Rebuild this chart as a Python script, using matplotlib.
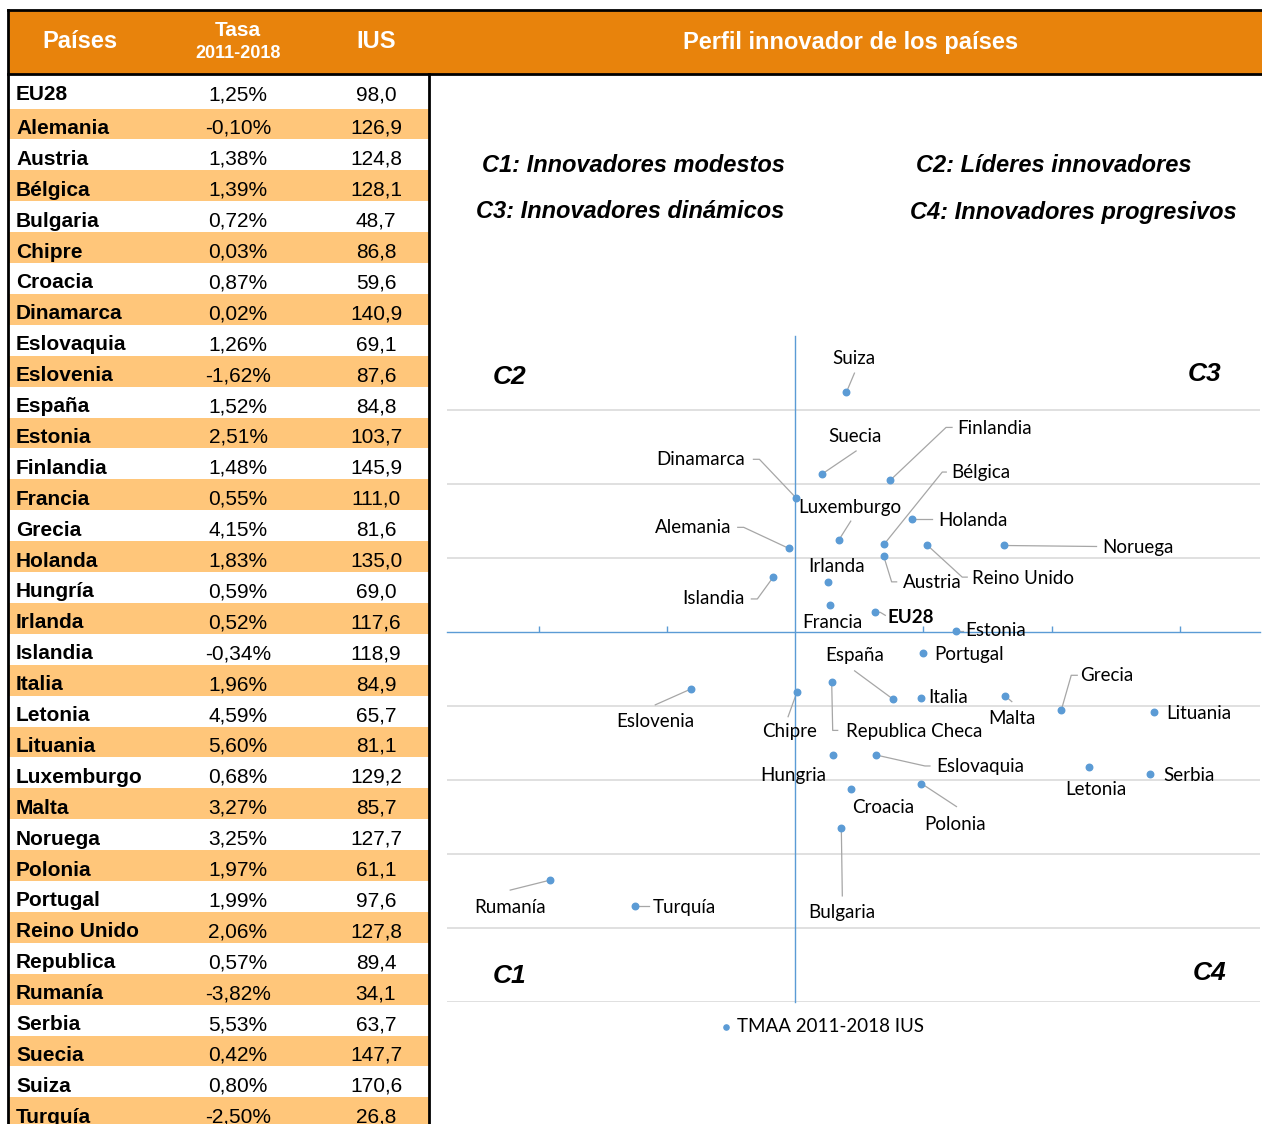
import matplotlib
matplotlib.use('Agg')
import matplotlib.pyplot as plt
from matplotlib.patches import Rectangle
from matplotlib.lines import Line2D

# --- data -------------------------------------------------------------
paises = ["EU28", "Alemania", "Austria", "Bélgica", "Bulgaria", "Chipre", "Croacia",
          "Dinamarca", "Eslovaquia", "Eslovenia", "España", "Estonia", "Finlandia",
          "Francia", "Grecia", "Holanda", "Hungría", "Irlanda", "Islandia", "Italia",
          "Letonia", "Lituania", "Luxemburgo", "Malta", "Noruega", "Polonia", "Portugal",
          "Reino Unido", "Republica", "Rumanía", "Serbia", "Suecia", "Suiza", "Turquía"]
tasa = [1.25, -0.10, 1.38, 1.39, 0.72, 0.03, 0.87, 0.02, 1.26, -1.62, 1.52, 2.51, 1.48,
        0.55, 4.15, 1.83, 0.59, 0.52, -0.34, 1.96, 4.59, 5.60, 0.68, 3.27, 3.25, 1.97,
        1.99, 2.06, 0.57, -3.82, 5.53, 0.42, 0.80, -2.50]
ius = [98.0, 126.9, 124.8, 128.1, 48.7, 86.8, 59.6, 140.9, 69.1, 87.6, 84.8, 103.7, 145.9,
       111.0, 81.6, 135.0, 69.0, 117.6, 118.9, 84.9, 65.7, 81.1, 129.2, 85.7, 127.7, 61.1,
       97.6, 127.8, 89.4, 34.1, 63.7, 147.7, 170.6, 26.8]
# names as written next to the points in the chart
etiquetas = ["EU28", "Alemania", "Austria", "Bélgica", "Bulgaria", "Chipre", "Croacia",
             "Dinamarca", "Eslovaquia", "Eslovenia", "España", "Estonia", "Finlandia",
             "Francia", "Grecia", "Holanda", "Hungria", "Irlanda", "Islandia", "Italia",
             "Letonia", "Lituania", "Luxemburgo", "Malta", "Noruega", "Polonia", "Portugal",
             "Reino Unido", "Republica Checa", "Rumanía", "Serbia", "Suecia", "Suiza", "Turquía"]
# the EU28 point in the chart sits higher than its table value
ius_grafico = list(ius)
ius_grafico[0] = 109.0

cuadrantes = ["C1: Innovadores modestos", "C2: Líderes innovadores",
              "C3: Innovadores dinámicos", "C4: Innovadores progresivos"]

# --- label placement (offsets in pixels from the point, y downward) ----
# name: (dx, dy, leader vertices)
label_pos = {
    "Suiza": (7, -34, [(0, 0), (8, -19)]),
    "Suecia": (33, -37, [(0, 0), (34, -23)]),
    "Finlandia": (105, -52, [(0, 0), (56, -53), (62, -53)]),
    "Dinamarca": (-96, -39, [(0, 0), (-37, -39), (-43, -39)]),
    "Luxemburgo": (11, -33, [(0, 0), (12, -19)]),
    "Bélgica": (97, -72, [(0, 0), (58, -72), (62, -72)]),
    "Holanda": (60, 1, [(0, 0), (20, 0)]),
    "Alemania": (-96, -21, [(0, 0), (-45, -21), (-51, -21)]),
    "Austria": (49, 27, [(0, 0), (8, 26), (13, 26)]),
    "Reino Unido": (96, 33, [(0, 0), (35, 32), (40, 32)]),
    "Noruega": (134, 2, [(0, 0), (93, 1)]),
    "Irlanda": (8, -15, None),
    "Islandia": (-60, 22, [(0, 0), (-16, 22), (-22, 22)]),
    "Francia": (2, 17, None),
    "EU28": (35, 5, [(0, 0), (5, 0), (10, 3)]),
    "Estonia": (40, -1, [(0, 0), (7, 0)]),
    "Portugal": (46, 1, None),
    "España": (-38, -43, [(0, 0), (-38, -28)]),
    "Italia": (27, -1, None),
    "Malta": (7, 23, [(0, 0), (7, 6)]),
    "Grecia": (46, -35, [(0, 0), (10, -35), (16, -35)]),
    "Lituania": (45, 1, None),
    "Chipre": (-8, 40, [(0, 0), (-9, 25)]),
    "Republica Checa": (82, 49, [(0, 0), (1, 48), (6, 48)]),
    "Eslovenia": (-36, 33, [(0, 0), (-36, 16)]),
    "Hungria": (-40, 20, None),
    "Eslovaquia": (104, 12, [(0, 0), (49, 11), (54, 11)]),
    "Letonia": (6, 22, None),
    "Serbia": (39, 1, None),
    "Croacia": (32, 19, None),
    "Polonia": (34, 41, [(0, 0), (35, 23)]),
    "Bulgaria": (0, 85, [(0, 0), (1, 68)]),
    "Rumanía": (-40, 27, [(0, 0), (-40, 10)]),
    "Turquía": (50, 1, [(0, 0), (14, 0)]),
}

ORANGE = '#E8830C'
SHADE = '#FFC67A'
BLUE = '#5B9BD5'
GRID = '#DDDDDD'
LEADER = '#A6A6A6'

W, H = 1262, 1124
fig = plt.figure(figsize=(W / 100, H / 100), dpi=100)

# background axes in pixel coordinates (y downward) for table and header
bg = fig.add_axes([0, 0, 1, 1])
bg.set_xlim(0, W)
bg.set_ylim(H, 0)
bg.axis('off')

bg.add_patch(Rectangle((8, 10), W - 8, 64, facecolor=ORANGE, edgecolor='none'))
hdr = dict(color='white', fontweight='bold', family='Liberation Sans', ha='center', va='center')
bg.text(80, 42, "Países", fontsize=17, **hdr)
bg.text(238, 31, "Tasa", fontsize=15, **hdr)
bg.text(238, 54, "2011-2018", fontsize=13, **hdr)
bg.text(376, 42, "IUS", fontsize=17, **hdr)
bg.text(851, 42, "Perfil innovador de los países", fontsize=17, **hdr)

row_h = 30.9
for i, (p, t, v) in enumerate(zip(paises, tasa, ius)):
    if i == 0:
        top, yc = 74, 95
    else:
        top = 108.5 + row_h * (i - 1)
        yc = top + row_h / 2 + 4.5
    if i % 2 == 1:
        bg.add_patch(Rectangle((8, top), 421, row_h, facecolor=SHADE, edgecolor='none'))
    bg.text(16, yc, p, fontsize=15, fontweight='bold', family='Liberation Sans',
            ha='left', va='center')
    bg.text(238, yc, f"{t:.2f}%".replace('.', ','), fontsize=15,
            family='Liberation Sans', ha='center', va='center')
    bg.text(376, yc, f"{v:.1f}".replace('.', ','), fontsize=15,
            family='Liberation Sans', ha='center', va='center')

bg.plot([8, W], [10, 10], color='black', lw=2)
bg.plot([8, W], [74, 74], color='black', lw=2)
bg.plot([8, 8], [10, H], color='black', lw=2)
bg.plot([429, 429], [74, H], color='black', lw=2)

# quadrant descriptions
desc_style = dict(fontsize=17, fontweight='bold', fontstyle='italic',
                  family='Liberation Sans', ha='center', va='center')
bg.text(633, 165, cuadrantes[0], **desc_style)
bg.text(1054, 165, cuadrantes[1], **desc_style)
bg.text(630, 212, cuadrantes[2], **desc_style)
bg.text(1073, 212, cuadrantes[3], **desc_style)

q_style = dict(fontsize=19, fontweight='bold', fontstyle='italic',
               family='Liberation Sans', ha='center', va='center')
bg.text(510, 377, "C2", **q_style)
bg.text(1205, 374, "C3", **q_style)
bg.text(510, 976, "C1", **q_style)
bg.text(1210, 973, "C4", **q_style)

# --- scatter ----------------------------------------------------------
step = 20.7
ax = fig.add_axes([447 / W, (H - 1002) / H, 813 / W, (1002 - 336) / H])
ax.set_facecolor('none')
ax.set_xlim(-5.43, 7.25)
ax.set_ylim(0, 9 * step)
for k in range(0, 9):
    if k != 5:
        ax.axhline(k * step, color=GRID, lw=1.3, zorder=0)
for s in ['top', 'right']:
    ax.spines[s].set_visible(False)
ax.spines['left'].set_position(('data', 0))
ax.spines['bottom'].set_position(('data', 5 * step))
ax.spines['left'].set_color(BLUE)
ax.spines['bottom'].set_color(BLUE)
ax.spines['left'].set_linewidth(1.0)
ax.spines['bottom'].set_linewidth(1.0)
ax.set_xticks([-4, -2, 2, 4, 6])
ax.set_xticklabels([])
ax.tick_params(axis='x', direction='in', length=4, color=BLUE, width=1)
ax.set_yticks([])

sc = ax.scatter(tasa, ius_grafico, s=22, color=BLUE, zorder=3, label="TMAA 2011-2018 IUS")

# labels and leader lines, placed in pixel space relative to each point
for name, x, y in zip(etiquetas, tasa, ius_grafico):
    dx, dy, leader = label_pos[name]
    px, py = ax.transData.transform((x, y))
    rx, ry = px, H - py
    ax.text(rx + dx, ry + dy, name, transform=bg.transData, fontsize=13.5,
            family='Lato', fontweight='bold' if name == "EU28" else 'normal',
            ha='center', va='center', clip_on=False, zorder=4)
    if leader:
        ax.add_line(Line2D([rx + a for a, b in leader], [ry + b for a, b in leader],
                           transform=bg.transData, color=LEADER, lw=0.9,
                           clip_on=False, zorder=2))

fig.legend(handles=[sc], loc='center', bbox_to_anchor=(822 / W, 1 - 1026 / H),
           frameon=False, prop={'family': 'Lato', 'size': 13.5},
           handlelength=0.6, handletextpad=0.3, markerscale=0.8)

fig.savefig("out.png", dpi=100)
